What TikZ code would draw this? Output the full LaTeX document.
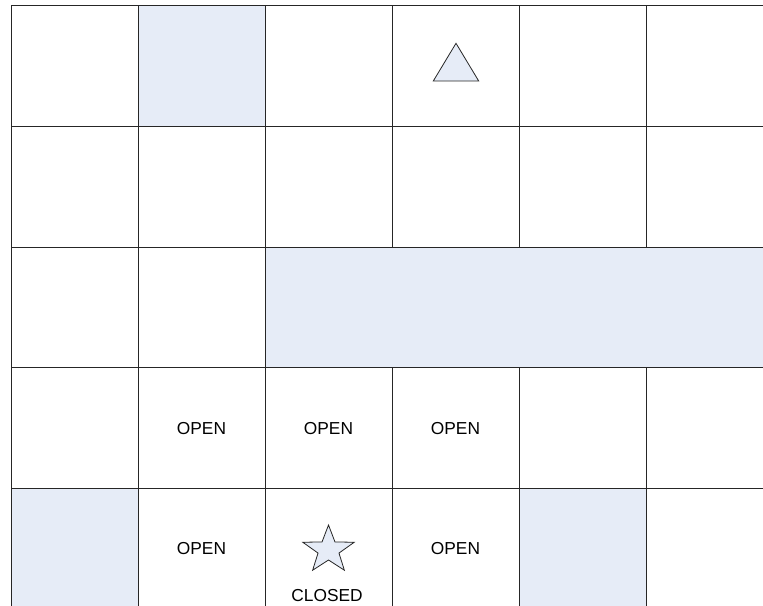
\documentclass[tikz,border=0pt]{standalone}
\usepackage{fontspec}
\setmainfont{Liberation Sans}
\definecolor{cellblue}{RGB}{230,236,247}
\begin{document}
\begin{tikzpicture}[x=.75pt,y=-.75pt,
  grid line/.style={draw=black!85,line width=.75pt},
  blocked/.style={fill=cellblue},
  mark shape/.style={draw=black!85,fill=cellblue,line width=.6pt,line join=miter},
  cell text/.style={font=\fontsize{13}{15}\selectfont,inner sep=0pt}]
\useasboundingbox (0,0) rectangle (763,606);
\clip (0,0) rectangle (763,606);
% blocked cells
\fill[blocked] (138,6) rectangle (265,126.6);
\fill[blocked] (11,488.4) rectangle (138,609);
\fill[blocked] (519,488.4) rectangle (646,609);
% grid
\foreach \i in {0,...,6} \draw[grid line] ({11+127*\i},6) -- ({11+127*\i},609);
\foreach \j in {0,...,5} \draw[grid line] (11,{6+120.6*\j}) -- (773,{6+120.6*\j});
% wall
\draw[grid line,blocked] (265,247.2) rectangle (773,367.8);
% goal and start
\draw[mark shape] (456,43.3) -- (478.7,81) -- (433.3,81) -- cycle;
\draw[mark shape,shift={(328.5,550)}] (-90:27 and 25)
  \foreach \a in {1,...,9}{ -- ({-90+36*\a}:{ifthenelse(isodd(\a),11,27)} and {ifthenelse(isodd(\a),10,25)}) } -- cycle;
% labels
\node[cell text] (open-a) at (201.5,428.5) {OPEN};
\node[cell text] (open-b) at (328.5,428.5) {OPEN};
\node[cell text] (open-c) at (455.5,428.5) {OPEN};
\node[cell text] (open-d) at (201.5,548.5) {OPEN};
\node[cell text] (open-e) at (455.5,548.5) {OPEN};
\node[cell text] (closed) at (327,596) {CLOSED};
\end{tikzpicture}
\end{document}
